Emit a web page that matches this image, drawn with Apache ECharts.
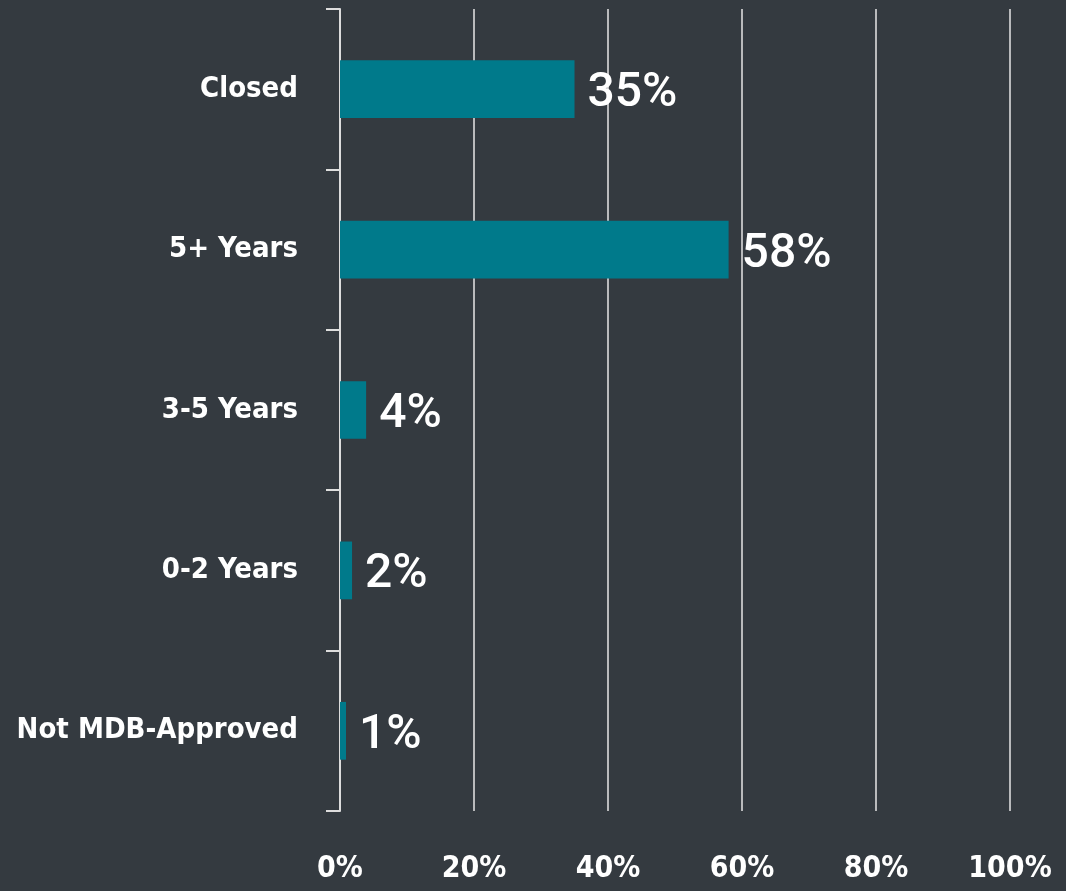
<!DOCTYPE html>
<html><head><meta charset="utf-8">
<script src="https://cdn.jsdelivr.net/npm/echarts@6/dist/echarts.min.js"></script>
<style>html,body{margin:0;padding:0;background:#343a40;}#c{width:1066px;height:891px;}</style>
</head><body><div id="c"></div>
<script>
const categories = ["Not MDB-Approved", "0-2 Years", "3-5 Years", "5+ Years", "Closed"];
const values = [0.9, 1.8, 3.9, 58, 35];
const valueLabels = ["1%", "2%", "4%", "58%", "35%"];
const tickLabels = ["0%", "20%", "40%", "60%", "80%", "100%"];

const chart = echarts.init(document.getElementById('c'));
const condensed = '"Liberation Sans Narrow", "DejaVu Sans Condensed", sans-serif';
chart.setOption({
  backgroundColor: '#343a40',
  animation: false,
  grid: {left: 340, right: 56, top: 9, bottom: 80, containLabel: false, outerBoundsMode: 'none'},
  xAxis: {
    type: 'value', min: 0, max: 100, interval: 20,
    axisLine: {show: false}, axisTick: {show: false},
    splitLine: {show: true, lineStyle: {color: '#e6e6e6', width: 1.5}},
    axisLabel: {
      margin: 43, color: '#ffffff', fontFamily: condensed, fontWeight: 'bold', fontSize: 30,
      formatter: (v) => tickLabels[Math.round(v / 20)]
    }
  },
  yAxis: {
    type: 'category', data: categories,
    axisLine: {show: true, lineStyle: {color: '#dddddd', width: 2}},
    axisTick: {show: true, length: 14, lineStyle: {color: '#dddddd', width: 2}},
    axisLabel: {margin: 42, color: '#ffffff', fontFamily: condensed, fontWeight: 'bold', fontSize: 29}
  },
  series: [{
    type: 'bar', data: values, barWidth: '36%',
    itemStyle: {color: '#007a8b'},
    label: {
      show: true, position: 'right', distance: 13, offset: [0, 5], color: '#ffffff',
      fontFamily: 'Roboto, sans-serif', fontWeight: 500, fontSize: 48,
      formatter: (p) => valueLabels[p.dataIndex]
    }
  }]
});
</script></body></html>
